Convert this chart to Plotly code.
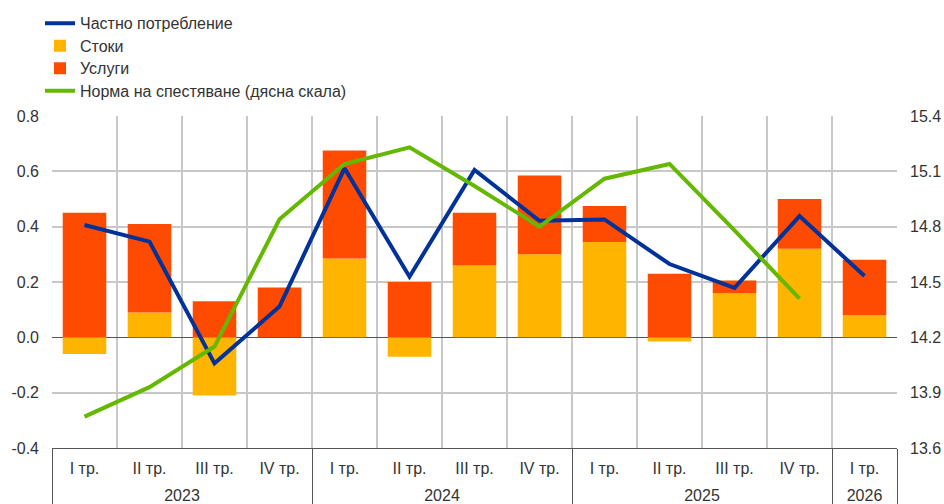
import plotly.graph_objects as go

years = ["2023"] * 4 + ["2024"] * 4 + ["2025"] * 4 + ["2026"]
quarters = ["I тр.", "II тр.", "III тр.", "IV тр."] * 3 + ["I тр."]

goods = [-0.06, 0.09, -0.21, 0.0, 0.285, -0.07, 0.26, 0.30, 0.345, -0.015, 0.16, 0.32, 0.08]
services = [0.45, 0.32, 0.13, 0.18, 0.39, 0.20, 0.19, 0.285, 0.13, 0.23, 0.045, 0.18, 0.20]
consumption = [0.406, 0.346, -0.094, 0.111, 0.611, 0.219, 0.605, 0.421, 0.426, 0.265, 0.179, 0.438, 0.222]
saving_rate = [13.77, 13.93, 14.15, 14.84, 15.14, 15.23, 15.02, 14.80, 15.06, 15.14, 14.78, 14.41, None]

series_names = ["Частно потребление", "Стоки", "Услуги", "Норма на спестяване (дясна скала)"]

left_ticks = [-0.4, -0.2, 0.0, 0.2, 0.4, 0.6, 0.8]
left_labels = ["-0.4", "-0.2", "0.0", "0.2", "0.4", "0.6", "0.8"]

# display labels: 16px text on a smaller base font, plus a blank line so the year row sits lower
big = "<span style='font-size:16px'>{}</span>"
x = [[big.format(y) for y in years], [big.format(q) + "<br>&nbsp;" for q in quarters]]
names = [big.format(n) for n in series_names]
FONT = "Liberation Sans, Arial, sans-serif"
TXT = "#333333"

fig = go.Figure()
fig.add_trace(go.Bar(x=x, y=goods, name=names[1], marker=dict(color="#FFB400", line=dict(width=0)), legendrank=2))
fig.add_trace(go.Bar(x=x, y=services, name=names[2], marker=dict(color="#FF4B00", line=dict(width=0)), legendrank=3))
fig.add_trace(go.Scatter(x=x, y=consumption, name=names[0], mode="lines",
                         line=dict(color="#003299", width=4), legendrank=1))
fig.add_trace(go.Scatter(x=x, y=saving_rate, name=names[3], mode="lines",
                         line=dict(color="#65B800", width=4), yaxis="y2", legendrank=4))

fig.update_layout(
    width=944, height=504,
    barmode="relative", bargap=0.33,
    plot_bgcolor="white", paper_bgcolor="white",
    margin=dict(l=52, r=47, t=116, b=56, autoexpand=False),
    font=dict(family=FONT, size=16, color=TXT),
    showlegend=True,
    hovermode=False,
    legend=dict(xref="container", yref="container", x=40 / 944, y=1 - 7 / 504, xanchor="left", yanchor="top",
                font=dict(size=15, color=TXT), itemwidth=30, tracegroupgap=0,
                bgcolor="rgba(0,0,0,0)"),
    xaxis=dict(type="multicategory", tickson="boundaries", showgrid=True, gridcolor="#c8c8c8", gridwidth=2,
               showline=True, linecolor="#555555", linewidth=1, ticks="",
               showdividers=True, dividercolor="#555555", dividerwidth=1,
               tickfont=dict(size=13, color=TXT), ticklabelstandoff=9),
    yaxis=dict(range=[-0.4, 0.8], tickvals=left_ticks, ticktext=left_labels, showgrid=True,
               gridcolor="#c8c8c8", gridwidth=2,
               zeroline=True, zerolinecolor="#555555", zerolinewidth=1, ticks="",
               tickfont=dict(size=16, color=TXT), ticklabelstandoff=12),
    yaxis2=dict(range=[13.6, 15.4], tick0=13.6, dtick=0.3, tickformat=".1f", overlaying="y", side="right",
                showgrid=False, zeroline=False, ticks="", tickfont=dict(size=16, color=TXT),
                ticklabelstandoff=12),
)

fig.write_html("out.html", config={"displayModeBar": False},
               post_script="document.body.style.margin='0';")
